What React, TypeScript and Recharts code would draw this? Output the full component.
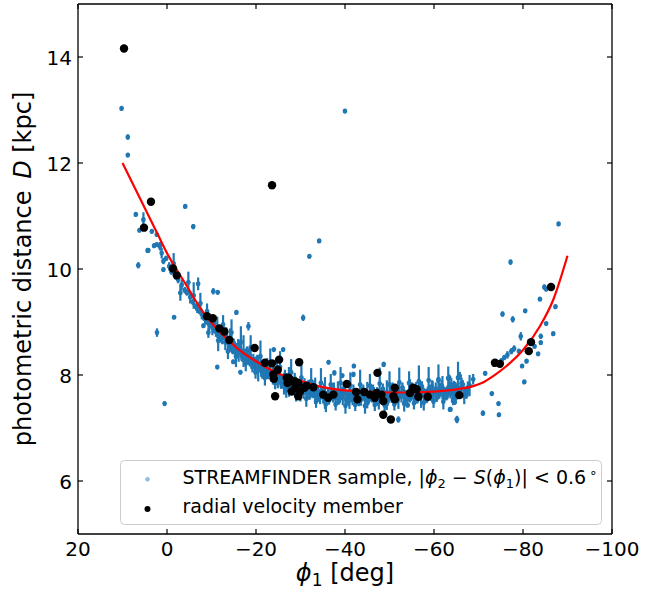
import React from 'react';
import { ScatterChart, Scatter, XAxis, YAxis, ErrorBar, Legend } from 'recharts';

const FONT = "'DejaVu Sans', 'Liberation Sans', sans-serif";

// axis ticks
const xTicks = [20, 0, -20, -40, -60, -80, -100];
const yTicks = [6, 8, 10, 12, 14];

// radial velocity members (black dots)
const rvPhi = [9.66, 3.6, 5.17, -1.35, -2.2, -23.6, -9.0, -10.3, -11.75, -12.9, -14.0, -19.7, -22.0, -23.6, -25.2, -24.9, -24.0, -23.9, -24.3, -27.3, -27.1, -29.7, -28.4, -29.5, -28.8, -29.9, -29.5, -31.4, -32.9, -35.1, -37.4, -36.2, -40.4, -42.5, -42.8, -44.3, -45.6, -46.7, -47.1, -48.2, -48.6, -47.3, -48.6, -50.3, -51.2, -50.9, -51.2, -54.6, -55.3, -56.1, -56.5, -58.6, -65.7, -73.7, -74.8, -81.8, -81.3, -86.3, -26.9, -27.6, -28.8, -29.1, -28.0, -30.9];
const rvDist = [14.16, 11.27, 10.78, 10.01, 9.88, 11.58, 9.11, 9.07, 8.88, 8.82, 8.66, 8.51, 8.23, 8.22, 8.29, 8.10, 7.93, 8.01, 7.60, 7.95, 7.85, 8.24, 7.88, 7.85, 7.76, 7.69, 7.60, 7.80, 7.77, 7.63, 7.63, 7.57, 7.83, 7.68, 7.54, 7.68, 7.63, 7.57, 7.66, 7.63, 7.51, 8.04, 7.25, 7.16, 7.76, 7.60, 7.54, 7.66, 7.76, 7.73, 7.59, 7.59, 7.62, 8.23, 8.21, 8.62, 8.45, 9.66, 7.95, 7.92, 7.88, 7.82, 7.69, 7.76];

// red track fit
const fitPhi = [10, 6, 2, 0, -4, -8, -12, -16, -20, -25, -30, -35, -40, -45, -50, -55, -60, -65, -68.8, -71, -73.3, -76.3, -80.1, -83.8, -86.8, -90];
const fitDist = [12.0, 11.32, 10.64, 10.3, 9.74, 9.2, 8.8, 8.49, 8.26, 8.03, 7.89, 7.77, 7.71, 7.685, 7.67, 7.67, 7.685, 7.73, 7.79, 7.86, 7.98, 8.17, 8.48, 8.92, 9.42, 10.25];

// STREAMFINDER sample: [phi1, distance, error]
const sampleOutliers = [
  [9.6, 14.18, 0.04], [10.2, 13.03, 0.03], [8.8, 12.49, 0.05], [8.8, 12.15, 0.03], [7.0, 11.03, 0.04],
  [5.3, 10.93, 0.14], [6.2, 10.73, 0.03], [4.2, 10.35, 0.03], [6.45, 10.07, 0.06], [2.9, 10.44, 0.04],
  [-4.1, 11.18, 0.03], [-5.9, 10.8, 0.05], [-32.0, 10.24, 0.03], [-34.2, 10.53, 0.03], [-40.0, 12.98, 0.04],
  [-30.6, 9.08, 0.06], [2.25, 8.8, 0.08], [0.54, 7.46, 0.04], [-1.6, 9.09, 0.03], [-15.6, 9.18, 0.04],
  [-7.0, 9.72, 0.12], [-10.4, 9.58, 0.06], [-11.4, 9.56, 0.04], [-8.2, 8.93, 0.03], [-11.3, 8.15, 0.03],
  [-14.9, 8.25, 0.04], [-16.5, 8.05, 0.03], [-18.3, 8.92, 0.08], [-26.1, 8.48, 0.03], [-24.0, 8.48, 0.03],
  [-36.3, 8.24, 0.03], [-37.6, 8.04, 0.05], [-39.4, 7.99, 0.03], [-42.0, 8.17, 0.04], [-41.9, 8.01, 0.05],
  [-48.7, 8.2, 0.05], [-52.0, 7.16, 0.06], [-54.1, 7.43, 0.04], [-63.6, 7.35, 0.03], [-65.1, 7.16, 0.06],
  [-64.3, 7.51, 0.05], [-63.4, 7.95, 0.06], [-65.8, 7.98, 0.08], [-61.0, 7.9, 0.05],
];

const sampleRight = [
  [-88.0, 10.85, 0.03], [-77.2, 10.13, 0.05], [-75.4, 9.15, 0.05], [-77.7, 9.05, 0.06], [-80.5, 9.21, 0.03],
  [-83.8, 9.43, 0.03], [-84.8, 9.66, 0.05], [-85.2, 9.62, 0.04], [-87.3, 9.29, 0.03], [-86.8, 8.78, 0.03],
  [-85.2, 8.97, 0.03], [-84.0, 8.73, 0.05], [-84.0, 8.61, 0.03], [-83.4, 8.4, 0.03], [-82.6, 8.54, 0.03],
  [-80.8, 8.26, 0.03], [-79.8, 8.17, 0.03], [-80.3, 7.87, 0.03], [-79.5, 8.73, 0.08], [-77.4, 8.45, 0.06],
  [-76.5, 8.38, 0.07], [-75.8, 8.33, 0.05], [-75.2, 8.27, 0.05], [-74.5, 8.22, 0.06], [-73.5, 8.2, 0.04],
  [-79.1, 8.45, 0.03], [-78.0, 8.5, 0.06], [-71.5, 8.03, 0.03], [-73.0, 7.65, 0.03], [-74.5, 7.46, 0.03],
  [-74.6, 7.25, 0.04], [-71.0, 7.28, 0.05], [-65.2, 7.16, 0.07], [-63.7, 7.35, 0.04], [-64.7, 7.49, 0.05],
];

const sampleLeft = [
  [3.4, 10.71, 0.04], [2.3, 10.65, 0.03], [2.3, 10.46, 0.04], [4.35, 10.35, 0.03], [1.6, 10.43, 0.08],
  [1.2, 10.3, 0.1], [0.8, 10.15, 0.06], [0.8, 9.99, 0.04], [0.2, 10.2, 0.05], [-0.5, 10.05, 0.08],
  [-1.0, 9.95, 0.06], [-2.0, 9.85, 0.05], [-2.5, 9.8, 0.07], [-3.3, 9.7, 0.1], [-4.0, 9.6, 0.06],
  [-4.5, 9.55, 0.05], [-5.2, 9.47, 0.12], [-5.8, 9.38, 0.06], [-6.3, 9.3, 0.05], [-6.8, 9.25, 0.08],
  [-7.3, 9.2, 0.04], [-7.8, 9.15, 0.1], [-8.3, 9.08, 0.06], [-8.8, 9.0, 0.05], [-9.5, 8.95, 0.12],
];

const sampleBand = [
  [-9.8, 9.02, 0.08], [-10.2, 8.9, 0.15], [-10.6, 8.97, 0.05], [-11.0, 8.82, 0.1], [-11.3, 8.9, 0.2],
  [-11.7, 8.75, 0.06], [-12.1, 8.84, 0.08], [-12.4, 8.7, 0.12], [-12.8, 8.78, 0.05], [-13.1, 8.62, 0.15],
  [-13.5, 8.7, 0.07], [-13.9, 8.58, 0.1], [-14.2, 8.66, 0.22], [-14.6, 8.52, 0.06], [-15.0, 8.6, 0.09],
  [-15.3, 8.47, 0.13], [-15.7, 8.55, 0.05], [-16.1, 8.42, 0.17], [-16.4, 8.5, 0.08], [-16.8, 8.37, 0.1],
  [-17.2, 8.45, 0.3], [-17.5, 8.32, 0.06], [-17.9, 8.4, 0.12], [-18.3, 8.27, 0.08], [-18.6, 8.36, 0.2],
  [-19.0, 8.22, 0.05], [-19.4, 8.3, 0.1], [-19.7, 8.18, 0.14], [-20.1, 8.26, 0.07], [-20.5, 8.13, 0.25],
  [-20.8, 8.2, 0.06], [-21.2, 8.08, 0.12], [-21.6, 8.16, 0.09], [-21.9, 8.04, 0.05], [-22.3, 8.12, 0.18],
  [-22.7, 8.0, 0.08], [-23.0, 8.08, 0.11], [-23.4, 7.96, 0.06], [-23.8, 8.04, 0.22], [-24.1, 7.93, 0.07],
  [-24.5, 8.01, 0.1], [-24.9, 7.9, 0.15], [-25.2, 7.97, 0.05], [-25.6, 7.86, 0.12], [-26.0, 7.94, 0.08],
  [-26.3, 7.83, 0.2], [-26.7, 7.9, 0.06], [-27.1, 7.8, 0.1], [-27.4, 7.87, 0.28], [-27.8, 7.77, 0.07],
  [-28.2, 7.84, 0.12], [-28.5, 7.74, 0.08], [-28.9, 7.81, 0.16], [-29.3, 7.72, 0.06], [-29.6, 7.79, 0.1],
  [-30.0, 7.7, 0.2], [-30.4, 7.77, 0.07], [-30.7, 7.67, 0.12], [-31.1, 7.75, 0.09], [-31.5, 7.65, 0.05],
  [-31.8, 7.73, 0.18], [-32.2, 7.64, 0.08], [-32.6, 7.72, 0.11], [-32.9, 7.62, 0.06], [-33.3, 7.7, 0.25],
  [-33.7, 7.6, 0.07], [-34.0, 7.68, 0.1], [-34.4, 7.59, 0.14], [-34.8, 7.67, 0.06], [-35.1, 7.58, 0.12],
  [-35.5, 7.66, 0.3], [-35.9, 7.57, 0.08], [-36.2, 7.65, 0.1], [-36.6, 7.6, 0.06], [-37.0, 7.7, 0.15],
  [-37.3, 7.56, 0.08], [-37.7, 7.64, 0.12], [-38.1, 7.58, 0.05], [-38.4, 7.68, 0.2], [-38.8, 7.55, 0.07],
  [-39.2, 7.63, 0.1], [-39.5, 7.59, 0.16], [-39.9, 7.67, 0.06], [-40.3, 7.54, 0.12], [-40.6, 7.62, 0.08],
  [-41.0, 7.58, 0.22], [-41.4, 7.66, 0.07], [-41.7, 7.53, 0.1], [-42.1, 7.61, 0.05], [-42.5, 7.57, 0.14],
  [-42.8, 7.65, 0.08], [-43.2, 7.52, 0.11], [-43.6, 7.6, 0.18], [-43.9, 7.56, 0.06], [-44.3, 7.64, 0.1],
  [-44.7, 7.53, 0.07], [-45.0, 7.62, 0.25], [-45.4, 7.57, 0.08], [-45.8, 7.66, 0.12], [-46.1, 7.54, 0.06],
  [-46.5, 7.62, 0.15], [-46.9, 7.58, 0.08], [-47.2, 7.67, 0.1], [-47.6, 7.55, 0.2], [-48.0, 7.63, 0.07],
  [-48.3, 7.59, 0.12], [-48.7, 7.68, 0.06], [-49.1, 7.54, 0.1], [-49.4, 7.62, 0.28], [-49.8, 7.58, 0.07],
  [-50.2, 7.67, 0.12], [-50.5, 7.55, 0.08], [-50.9, 7.63, 0.16], [-51.3, 7.6, 0.06], [-51.6, 7.69, 0.1],
  [-52.0, 7.56, 0.2], [-52.4, 7.64, 0.07], [-52.7, 7.6, 0.12], [-53.1, 7.7, 0.08], [-53.5, 7.57, 0.14],
  [-53.8, 7.65, 0.06], [-54.2, 7.61, 0.1], [-54.6, 7.7, 0.22], [-54.9, 7.58, 0.07], [-55.3, 7.66, 0.12],
  [-55.7, 7.62, 0.05], [-56.0, 7.71, 0.16], [-56.4, 7.58, 0.08], [-56.8, 7.67, 0.1], [-57.1, 7.63, 0.25],
  [-57.5, 7.72, 0.07], [-57.9, 7.6, 0.12], [-58.2, 7.68, 0.06], [-58.6, 7.64, 0.14], [-59.0, 7.73, 0.08],
  [-59.3, 7.61, 0.1], [-59.7, 7.69, 0.2], [-60.1, 7.65, 0.06], [-60.4, 7.74, 0.12], [-60.8, 7.62, 0.08],
  [-61.2, 7.7, 0.15], [-61.5, 7.66, 0.07], [-61.9, 7.76, 0.22], [-62.3, 7.63, 0.1], [-62.6, 7.71, 0.06],
  [-63.0, 7.68, 0.12], [-63.4, 7.78, 0.18], [-63.7, 7.64, 0.08], [-64.1, 7.72, 0.1], [-64.5, 7.69, 0.2],
  [-64.8, 7.8, 0.07], [-65.2, 7.66, 0.12], [-65.6, 7.74, 0.06], [-66.0, 7.71, 0.14], [-66.5, 7.82, 0.08],
  [-67.0, 7.68, 0.1], [-67.6, 7.76, 0.12],
];

const sampleBand2 = [
  [-10.5, 8.85, 0.05], [-12.0, 8.68, 0.07], [-13.3, 8.8, 0.1], [-14.8, 8.45, 0.06], [-16.0, 8.56, 0.12],
  [-17.0, 8.3, 0.05], [-18.0, 8.46, 0.08], [-19.2, 8.15, 0.1], [-20.3, 8.32, 0.06], [-21.4, 8.02, 0.09],
  [-22.5, 8.2, 0.12], [-23.6, 7.92, 0.05], [-24.7, 8.1, 0.15], [-25.8, 7.8, 0.06], [-26.5, 8.0, 0.1],
  [-27.6, 7.74, 0.08], [-28.7, 7.92, 0.12], [-29.8, 7.66, 0.05], [-30.9, 7.84, 0.1], [-32.0, 7.6, 0.07],
  [-33.1, 7.78, 0.12], [-34.2, 7.55, 0.06], [-35.3, 7.74, 0.1], [-36.4, 7.52, 0.08], [-37.5, 7.72, 0.14],
  [-38.6, 7.5, 0.06], [-39.7, 7.74, 0.1], [-40.8, 7.5, 0.08], [-41.9, 7.7, 0.12], [-43.0, 7.48, 0.06],
  [-44.1, 7.72, 0.1], [-45.2, 7.5, 0.07], [-46.3, 7.7, 0.12], [-47.4, 7.48, 0.06], [-48.5, 7.74, 0.1],
  [-49.6, 7.5, 0.08], [-50.7, 7.72, 0.14], [-51.8, 7.52, 0.06], [-52.9, 7.76, 0.1], [-54.0, 7.54, 0.08],
  [-55.1, 7.74, 0.12], [-56.2, 7.52, 0.06], [-57.3, 7.78, 0.1], [-58.4, 7.55, 0.08], [-59.5, 7.78, 0.12],
  [-60.6, 7.56, 0.07], [-61.7, 7.8, 0.1], [-62.8, 7.58, 0.06], [-63.9, 7.82, 0.12], [-65.0, 7.6, 0.08],
  [-66.2, 7.85, 0.1], [-67.3, 7.62, 0.07],
];

const sampleBand3 = [
  [-1.5, 10.1, 0.2], [-3.0, 9.55, 0.15], [-4.8, 9.75, 0.2], [-6.0, 9.5, 0.25], [-7.5, 9.35, 0.2],
  [-9.0, 9.2, 0.15], [-9.3, 8.8, 0.1], [-11.5, 8.65, 0.2], [-12.6, 8.95, 0.18], [-13.7, 8.45, 0.15],
  [-14.5, 8.8, 0.25], [-15.5, 8.35, 0.2], [-16.6, 8.62, 0.3], [-17.7, 8.22, 0.15], [-18.8, 8.5, 0.25],
  [-19.9, 8.05, 0.12], [-21.0, 8.35, 0.3], [-22.0, 7.95, 0.15], [-23.2, 8.25, 0.25], [-24.3, 7.85, 0.12],
  [-25.4, 8.15, 0.3], [-26.8, 7.72, 0.15], [-27.9, 8.05, 0.25], [-29.0, 7.62, 0.12], [-30.2, 7.95, 0.3],
  [-31.3, 7.55, 0.15], [-32.4, 7.88, 0.25], [-33.5, 7.5, 0.12], [-34.6, 7.85, 0.28], [-35.7, 7.45, 0.15],
  [-36.8, 7.82, 0.2], [-37.9, 7.45, 0.12], [-39.0, 7.85, 0.3], [-40.1, 7.42, 0.15], [-41.2, 7.8, 0.25],
  [-42.3, 7.44, 0.12], [-43.4, 7.82, 0.28], [-44.5, 7.42, 0.15], [-45.6, 7.8, 0.22], [-46.7, 7.44, 0.12],
  [-47.8, 7.84, 0.3], [-48.9, 7.43, 0.15], [-50.0, 7.82, 0.25], [-51.1, 7.45, 0.12], [-52.2, 7.86, 0.28],
  [-53.3, 7.46, 0.15], [-54.4, 7.85, 0.22], [-55.5, 7.47, 0.12], [-56.6, 7.88, 0.3], [-57.7, 7.48, 0.15],
  [-58.8, 7.9, 0.25], [-59.9, 7.5, 0.12], [-61.0, 7.92, 0.28], [-62.1, 7.5, 0.15], [-63.2, 7.94, 0.22],
  [-64.3, 7.55, 0.12], [-65.4, 7.95, 0.3], [-66.8, 7.6, 0.15], [-68.0, 7.8, 0.2], [-68.8, 7.92, 0.1],
];

const BLUE = '#1f77b4';

const toRows = (rows: number[][]) => rows.map(([x, y, e]) => ({ x, y, err: e }));
const sampleData = [
  ...toRows(sampleOutliers),
  ...toRows(sampleRight),
  ...toRows(sampleLeft),
  ...toRows(sampleBand3),
  ...toRows(sampleBand),
  ...toRows(sampleBand2),
];
const rvData = rvPhi.map((x, i) => ({ x, y: rvDist[i] }));
const fitData = fitPhi.map((x, i) => ({ x, y: fitDist[i] }));

const fmt = (v: number) => (v < 0 ? '\u2212' + Math.abs(v) : String(v));

const BottomTick = (props: any) => {
  const { x, y, payload } = props;
  return (
    <g>
      <line x1={x} x2={x} y1={y} y2={y - 5} stroke="#000" strokeWidth={1.2} />
      <text x={x} y={y + 22} textAnchor="middle" fontSize={20} fontFamily={FONT} fill="#000">
        {fmt(payload.value)}
      </text>
    </g>
  );
};

const TopTick = (props: any) => {
  const { x, y } = props;
  return <line x1={x} x2={x} y1={y} y2={y + 5} stroke="#000" strokeWidth={1.2} />;
};

const LeftTick = (props: any) => {
  const { x, y, payload } = props;
  return (
    <g>
      <line x1={x} x2={x + 5} y1={y} y2={y} stroke="#000" strokeWidth={1.2} />
      <text x={x - 6} y={y + 7.5} textAnchor="end" fontSize={20} fontFamily={FONT} fill="#000">
        {fmt(payload.value)}
      </text>
    </g>
  );
};

const RightTick = (props: any) => {
  const { x, y } = props;
  return <line x1={x} x2={x - 5} y1={y} y2={y} stroke="#000" strokeWidth={1.2} />;
};

const XLabel = () => (
  <text x={345} y={581} textAnchor="middle" fontSize={24} fontFamily={FONT} fill="#000">
    <tspan fontStyle="italic">{'\u03d5'}</tspan>
    <tspan fontSize={17} dy={5}>1</tspan>
    <tspan dy={-5}> [deg]</tspan>
  </text>
);

const YLabel = () => (
  <text transform="translate(31,269) rotate(-90)" textAnchor="middle" fontSize={24} fontFamily={FONT} fill="#000">
    photometric distance <tspan fontStyle="italic" dx={4}>D</tspan> [kpc]
  </text>
);

const SampleDot = (p: any) => <ellipse cx={p.cx} cy={p.cy} rx={2.3} ry={2.6} fill={BLUE} />;
const MemberDot = (p: any) => <circle cx={p.cx} cy={p.cy} r={4.2} fill="#000" />;
const NoDot = () => <g />;

const LegendBox = () => (
  <svg width={484} height={68} style={{ display: 'block', overflow: 'visible' }}>
    <rect x={0.5} y={0.5} width={481} height={64} rx={4} ry={4} fill="rgba(255,255,255,0.8)" stroke="#cccccc" strokeWidth={1} />
    <circle cx={27.5} cy={19.3} r={2.2} fill={BLUE} fillOpacity={0.5} />
    <text x={62.5} y={24} fontSize={19} fontFamily={FONT} fill="#000">
      STREAMFINDER sample, |<tspan fontStyle="italic">{'\u03d5'}</tspan>
      <tspan fontSize={13} dy={4}>2</tspan>
      <tspan dy={-4}> {'\u2212'} </tspan>
      <tspan fontStyle="italic">S</tspan>(<tspan fontStyle="italic">{'\u03d5'}</tspan>
      <tspan fontSize={13} dy={4}>1</tspan>
      <tspan dy={-4}>)| &lt; 0.6</tspan>
      <tspan fontSize={13} dy={-7} dx={3}>{'\u2218'}</tspan>
    </text>
    <circle cx={27.5} cy={49} r={3} fill="#000" />
    <text x={62.5} y={53} fontSize={19} fontFamily={FONT} fill="#000">
      radial velocity member
    </text>
  </svg>
);

export default function App() {
  return (
    <div style={{ position: 'absolute', left: 0, top: 0, width: 660, height: 590, background: '#fff' }}>
      <ScatterChart width={660} height={590} margin={{ top: 3, right: 47, bottom: 0, left: 0 }}>
        <XAxis
          type="number"
          dataKey="x"
          domain={[-100, 20]}
          reversed
          allowDataOverflow
          ticks={xTicks}
          interval={0}
          height={56}
          tickSize={0}
          tickMargin={0}
          tickLine={false}
          tick={<BottomTick />}
          axisLine={{ stroke: '#000', strokeWidth: 1.3 }}
          label={<XLabel />}
        />
        <XAxis
          xAxisId="top"
          orientation="top"
          type="number"
          dataKey="x"
          domain={[-100, 20]}
          reversed
          allowDataOverflow
          ticks={xTicks}
          interval={0}
          height={1}
          tickSize={0}
          tickMargin={0}
          tickLine={false}
          tick={<TopTick />}
          axisLine={{ stroke: '#000', strokeWidth: 1.3 }}
        />
        <YAxis
          type="number"
          dataKey="y"
          domain={[5, 15]}
          allowDataOverflow
          ticks={yTicks}
          interval={0}
          width={78}
          tickSize={0}
          tickMargin={0}
          tickLine={false}
          tick={<LeftTick />}
          axisLine={{ stroke: '#000', strokeWidth: 1.3 }}
          label={<YLabel />}
        />
        <YAxis
          yAxisId="right"
          orientation="right"
          type="number"
          dataKey="y"
          domain={[5, 15]}
          allowDataOverflow
          ticks={yTicks}
          interval={0}
          width={1}
          tickSize={0}
          tickMargin={0}
          tickLine={false}
          tick={<RightTick />}
          axisLine={{ stroke: '#000', strokeWidth: 1.3 }}
        />
        <Legend
          layout="vertical"
          align="center"
          verticalAlign="middle"
          content={<LegendBox />}
          wrapperStyle={{ left: 120, top: 460, width: 484, height: 68 }}
        />
        <Scatter
          name="STREAMFINDER sample"
          data={sampleData}
          fill={BLUE}
          shape={<SampleDot />}
          isAnimationActive={false}
        >
          <ErrorBar dataKey="err" direction="y" width={0} stroke={BLUE} strokeWidth={2.2} />
        </Scatter>
        <Scatter
          name="fit"
          data={fitData}
          xAxisId="top"
          yAxisId="right"
          fill="red"
          line={{ stroke: '#ff0000', strokeWidth: 2.2 }}
          lineJointType="monotoneX"
          shape={<NoDot />}
          isAnimationActive={false}
        />
        <Scatter
          name="radial velocity member"
          data={rvData}
          fill="#000"
          shape={<MemberDot />}
          isAnimationActive={false}
        />
      </ScatterChart>
    </div>
  );
}
